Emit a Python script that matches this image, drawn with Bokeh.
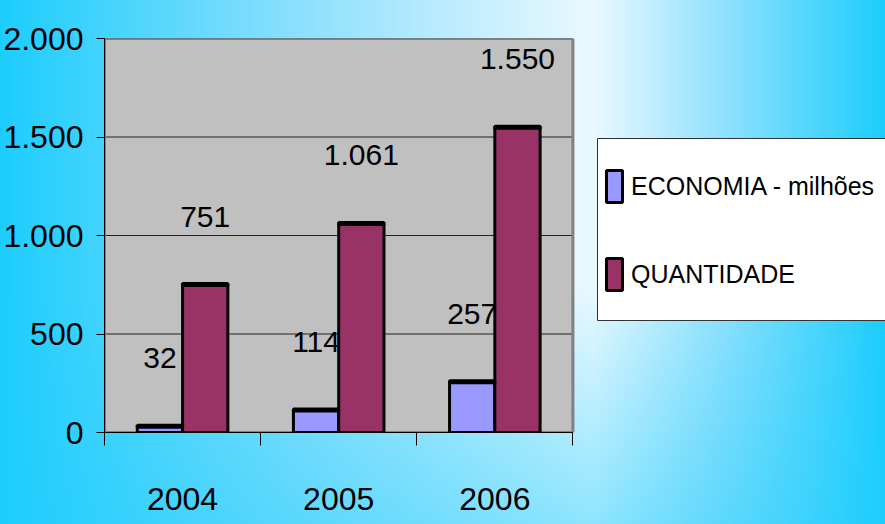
from bokeh.plotting import figure
from bokeh.models import (ColumnDataSource, Range1d, FixedTicker, Legend,
                          LegendItem, BoxAnnotation)
from bokeh.transform import dodge
from bokeh.core.properties import value
from bokeh.embed import file_html
from bokeh.resources import INLINE

# ---- data ----
years = ["2004", "2005", "2006"]
economia = [32, 114, 257]
quantidade = [751, 1061, 1550]
series_names = ["ECONOMIA - milhões", "QUANTIDADE"]
series_colors = ["#9999FF", "#993366"]
y_ticks = [0, 500, 1000, 1500, 2000]
y_tick_labels = ["0", "500", "1.000", "1.500", "2.000"]
y_max = 2000


def fmt(v):
    return f"{v:,}".replace(",", ".")


FONT = "'Liberation Sans', Arial, sans-serif"
FS_AXIS = "32px"
FS_VAL = "30px"

n = len(years)
xs = [i + 0.5 for i in range(n)]
source = ColumnDataSource(dict(
    x=xs,
    economia=economia,
    quantidade=quantidade,
    econ_lbl=[fmt(v) for v in economia],
    quant_lbl=[fmt(v) for v in quantidade],
))

# layout (pixels)
W, H = 885, 524
LEFT, TOP, BOTTOM = 103, 38, 92
PLOT_PX = 469                      # width of the grey plot area
FRAME_PX = W - LEFT                # frame extends to the right edge (room for legend)

p = figure(width=W, height=H,
           x_range=Range1d(0, n * FRAME_PX / PLOT_PX), y_range=Range1d(0, y_max),
           output_backend="svg", toolbar_location=None,
           min_border_left=LEFT, min_border_right=0,
           min_border_top=TOP, min_border_bottom=BOTTOM)

p.border_fill_alpha = 0
p.background_fill_alpha = 0
p.outline_line_alpha = 0
p.xgrid.visible = False
p.ygrid.visible = False

# grey plot area
p.quad(left=0, right=n, bottom=0, top=y_max, fill_color="#C0C0C0", line_alpha=0)
# horizontal grid lines
p.segment(x0=[0] * len(y_ticks), x1=[n] * len(y_ticks), y0=y_ticks, y1=y_ticks,
          line_color="#222222", line_width=1)
# plot-area border
p.quad(left=0, right=n, bottom=0, top=y_max, fill_alpha=0,
       line_color="#808080", line_width=3)

bw = 0.29
off = bw / 2

r1 = p.vbar(x=dodge("x", -off), top="economia", bottom=0, width=bw, source=source,
            fill_color=series_colors[0], line_color="black", line_width=3)
r2 = p.vbar(x=dodge("x", off), top="quantidade", bottom=0, width=bw, source=source,
            fill_color=series_colors[1], line_color="black", line_width=3)

# darker top edge of the bars
p.rect(x=dodge("x", -off), y="economia", width=bw, height=2, height_units="screen",
       source=source, fill_color="black", line_color="black", line_width=3)
p.rect(x=dodge("x", off), y="quantidade", width=bw, height=2, height_units="screen",
       source=source, fill_color="black", line_color="black", line_width=3)

# value labels
p.text(x=dodge("x", -off), y="economia", text="econ_lbl", source=source,
       text_font=value(FONT), text_font_size=FS_VAL, text_align="center",
       text_baseline="alphabetic", y_offset=-68, text_color="black")
p.text(x=dodge("x", off), y="quantidade", text="quant_lbl", source=source,
       text_font=value(FONT), text_font_size=FS_VAL, text_align="center",
       text_baseline="alphabetic", y_offset=-68, text_color="black")

# y axis
yax = p.yaxis[0]
yax.ticker = FixedTicker(ticks=y_ticks)
yax.major_label_overrides = {t: l for t, l in zip(y_ticks, y_tick_labels)}
yax.major_label_text_font = FONT
yax.major_label_text_font_size = FS_AXIS
yax.major_label_text_color = "black"
yax.major_label_standoff = 13
yax.major_tick_out = 8
yax.major_tick_in = 0
yax.minor_tick_out = 0
yax.minor_tick_in = 0
yax.axis_line_color = "black"
yax.major_tick_line_color = "black"

# x axis
xax = p.xaxis[0]
xax.bounds = (0, n)
xax.ticker = FixedTicker(ticks=xs, minor_ticks=list(range(n + 1)))
xax.major_label_overrides = {x: y for x, y in zip(xs, years)}
xax.major_label_text_font = FONT
xax.major_label_text_font_size = FS_AXIS
xax.major_label_text_color = "black"
xax.major_label_standoff = 42
xax.major_tick_out = 0
xax.major_tick_in = 0
xax.minor_tick_out = 13
xax.minor_tick_in = 0
xax.minor_tick_line_color = "black"
xax.axis_line_color = "black"

# legend box
box = BoxAnnotation(left=597, right=W + 20, top=138, bottom=320,
                    left_units="canvas", right_units="canvas",
                    top_units="canvas", bottom_units="canvas",
                    fill_color="white", fill_alpha=1,
                    line_color="#333333", line_width=1, line_alpha=1)
p.add_layout(box)

legend = Legend(items=[LegendItem(label=series_names[0], renderers=[r1]),
                       LegendItem(label=series_names[1], renderers=[r2])],
                location=(492, 130), padding=8, margin=0, spacing=48,
                glyph_width=20, glyph_height=40, label_height=40,
                label_standoff=7,
                label_text_font=FONT, label_text_font_size="25px",
                label_text_color="black",
                background_fill_alpha=0, border_line_alpha=0)
p.add_layout(legend)

bg = ("linear-gradient(to bottom, rgba(30,205,252,0) 55%, rgba(30,205,252,0.45) 100%),"
      "linear-gradient(to right, #1ccdfc 0%, #8adffd 33%, #eaf8ff 67%, #8ee0fd 82%, #1ccdfc 100%)")
html = file_html(p, INLINE, title="chart")
html = html.replace("</head>", "<style>html,body{background:" + bg + ";min-height:100%;}</style></head>", 1)
open("out.html", "w").write(html)
